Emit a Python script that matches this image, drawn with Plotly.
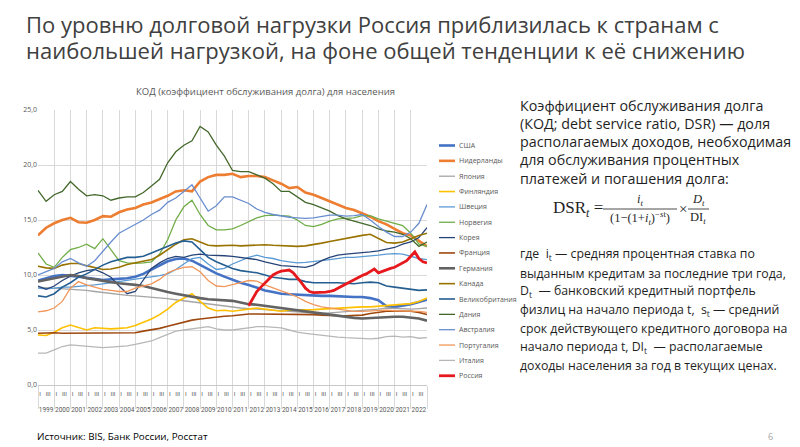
import plotly.graph_objects as go

# ---------------- data (semi-annual points, 1999.0 ... 2023.0) ----------------
T_HALF = [1999 + 0.5 * i for i in range(49)]
T_RUSSIA = [2012 + 0.25 * i for i in range(45)]
YEARS = list(range(1999, 2023))

USA = [9.5, 9.7, 9.9, 10.0, 9.95, 9.85, 9.75, 9.65, 9.55, 9.6, 9.65, 9.7, 9.85, 10.1,
       10.5, 10.9, 11.25, 11.45, 11.5, 11.3, 10.9, 10.5, 10.15, 9.85, 9.55, 9.3, 9.1, 8.85,
       8.6, 8.45, 8.3, 8.25, 8.2, 8.15, 8.1, 8.1, 8.1, 8.05, 8.0, 8.0, 8.0, 7.9, 7.7, 7.15,
       7.1, 7.2, 7.35, 7.55, 7.75]
NETHERLANDS = [13.6, 14.3, 14.7, 15.0, 15.2, 14.8, 14.75, 15.0, 15.35, 15.3, 15.7, 15.95,
               16.1, 16.4, 16.6, 16.9, 17.2, 17.6, 17.7, 17.6, 18.5, 18.9, 19.1, 19.1, 19.2,
               18.9, 19.0, 19.0, 18.9, 18.6, 18.3, 17.9, 18.0, 17.5, 17.3, 17.0, 16.7, 16.4,
               16.1, 15.9, 15.6, 15.3, 14.9, 14.6, 14.2, 13.8, 13.6, 13.1, 12.6]
JAPAN = [8.9, 8.85, 8.8, 8.8, 8.75, 8.7, 8.6, 8.5, 8.4, 8.3, 8.2, 8.15, 8.1, 8.05, 8.0, 7.95,
         7.85, 7.75, 7.65, 7.55, 7.45, 7.35, 7.25, 7.15, 7.1, 7.0, 6.95, 6.9, 6.85, 6.8, 6.7,
         6.65, 6.6, 6.55, 6.5, 6.5, 6.55, 6.6, 6.65, 6.7, 6.75, 6.8, 6.9, 7.0, 6.95, 6.9, 6.9,
         6.95, 7.0]
FINLAND = [4.55, 4.5, 4.8, 5.2, 5.45, 5.2, 5.0, 5.2, 5.15, 5.1, 5.15, 5.2, 5.4, 5.7, 6.0, 6.4,
           6.9, 7.5, 7.9, 8.3, 7.6, 7.0, 6.75, 6.8, 6.7, 6.8, 6.9, 7.0, 6.9, 6.8, 6.7, 6.8, 6.8,
           6.8, 6.85, 6.9, 6.95, 7.0, 7.0, 7.05, 7.1, 7.1, 7.15, 7.2, 7.25, 7.3, 7.4, 7.6, 7.9]
SWEDEN = [8.8, 8.75, 8.8, 8.9, 8.9, 8.95, 9.0, 9.1, 9.2, 9.3, 9.4, 9.55, 9.65, 9.75, 9.8,
          9.95, 10.1, 10.5, 11.0, 11.5, 11.6, 11.0, 10.5, 10.6, 11.0, 11.3, 11.6, 11.8, 11.6,
          11.5, 11.3, 11.2, 11.1, 11.15, 11.2, 11.3, 11.4, 11.5, 11.6, 11.6, 11.65, 11.7,
          11.8, 11.9, 11.95, 11.9, 11.7, 11.5, 11.4]
NORWAY = [12.0, 11.0, 10.7, 11.6, 12.3, 12.5, 12.8, 12.4, 13.3, 12.3, 11.3, 11.1, 11.05,
          11.1, 11.2, 11.9, 13.2, 15.0, 16.2, 16.8, 15.5, 14.5, 14.1, 14.1, 14.2, 14.5, 14.85,
          15.2, 15.4, 15.45, 15.4, 15.35, 15.0, 14.5, 14.4, 14.6, 14.9, 15.1, 15.15, 15.2,
          15.4, 15.4, 15.1, 14.9, 14.75, 14.5, 13.8, 12.8, 12.6]
KOREA = [9.0, 8.7, 9.0, 9.5, 9.9, 10.2, 10.4, 10.5, 10.2, 9.8, 9.0, 8.3, 8.5, 9.6, 10.6,
         11.1, 11.5, 11.7, 11.6, 11.8, 11.9, 11.8, 11.8, 11.75, 11.7, 11.6, 11.5, 11.4, 11.2,
         11.0, 10.85, 10.8, 10.75, 10.7, 10.9, 11.3, 11.6, 11.8, 11.9, 11.95, 12.0, 12.1,
         12.2, 12.35, 12.5, 12.8, 13.0, 13.4, 14.3]
FRANCE = [4.7, 4.75, 4.75, 4.7, 4.7, 4.7, 4.7, 4.7, 4.7, 4.7, 4.7, 4.7, 4.75, 4.9, 5.0, 5.15,
          5.35, 5.55, 5.75, 5.9, 6.0, 6.1, 6.15, 6.25, 6.3, 6.4, 6.45, 6.45, 6.45, 6.45, 6.45,
          6.45, 6.45, 6.45, 6.4, 6.35, 6.3, 6.3, 6.3, 6.3, 6.35, 6.5, 6.6, 6.7, 6.7, 6.7, 6.7,
          6.6, 6.4]
GERMANY = [9.4, 9.55, 9.7, 9.9, 10.0, 9.9, 9.7, 9.6, 9.45, 9.35, 9.25, 9.2, 9.1, 9.0, 8.8,
           8.6, 8.45, 8.3, 8.15, 8.0, 7.9, 7.8, 7.75, 7.7, 7.65, 7.5, 7.35, 7.3, 7.2, 7.1, 7.0,
           6.9, 6.8, 6.65, 6.55, 6.45, 6.35, 6.25, 6.15, 6.1, 6.05, 6.1, 6.15, 6.2, 6.2, 6.2,
           6.15, 6.05, 5.85]
CANADA = [10.8, 10.65, 10.6, 10.9, 11.05, 11.05, 10.85, 10.7, 10.5, 10.55, 10.7, 10.95, 11.1,
          11.25, 11.4, 11.8, 12.3, 12.8, 13.2, 13.3, 13.0, 12.7, 12.65, 12.7, 12.7, 12.65,
          12.7, 12.7, 12.75, 12.7, 12.65, 12.6, 12.6, 12.65, 12.75, 12.9, 13.05, 13.2, 13.3,
          13.45, 13.6, 13.7, 13.3, 12.95, 12.9, 13.0, 13.3, 13.6, 13.8]
UK = [8.1, 8.0, 8.3, 8.9, 9.3, 9.8, 10.1, 10.5, 10.9, 11.2, 11.4, 11.6, 11.6, 11.7, 12.0,
      12.3, 12.6, 12.9, 13.1, 13.0, 12.3, 11.6, 11.2, 10.9, 10.6, 10.4, 10.3, 10.2, 10.0, 9.8,
      9.7, 9.6, 9.6, 9.4, 9.3, 9.3, 9.35, 9.3, 9.25, 9.2, 9.3, 9.35, 9.3, 9.0, 8.9, 8.8, 8.7,
      8.6, 8.65]
DENMARK = [17.7, 16.7, 17.3, 17.6, 18.5, 17.8, 17.2, 17.3, 17.2, 16.8, 17.0, 17.1, 17.1,
           17.5, 18.1, 18.7, 20.2, 21.2, 21.8, 22.2, 23.5, 23.0, 21.8, 20.8, 19.5, 19.4, 19.4,
           19.1, 18.8, 18.3, 17.6, 17.6, 17.1, 16.6, 16.4, 16.1, 15.8, 15.4, 15.1, 14.9, 14.7,
           14.5, 14.2, 14.0, 13.9, 13.7, 13.3, 12.6, 13.0]
AUSTRALIA = [10.0, 10.3, 10.6, 11.2, 11.5, 11.1, 10.8, 11.3, 12.2, 13.0, 13.8, 14.2, 14.6,
             15.0, 15.5, 15.9, 16.6, 17.0, 17.6, 18.2, 17.0, 15.8, 16.3, 17.1, 17.1, 16.8,
             16.5, 16.0, 15.7, 15.5, 15.35, 15.25, 15.2, 15.15, 15.2, 15.3, 15.45, 15.45,
             15.35, 15.4, 15.5, 15.0, 14.4, 13.9, 13.5, 13.5, 13.9, 14.7, 16.4]
PORTUGAL = [6.65, 6.75, 7.0, 7.6, 8.8, 9.4, 9.1, 8.9, 8.7, 8.6, 8.5, 8.5, 8.8, 9.0, 9.2, 9.6,
            10.2, 10.5, 10.7, 10.75, 10.3, 9.5, 9.0, 8.95, 9.1, 9.3, 9.5, 9.45, 9.1, 8.8, 8.55,
            8.3, 8.0, 7.6, 7.3, 7.1, 7.0, 6.85, 6.75, 6.7, 6.7, 6.75, 6.8, 6.8, 6.75, 6.75,
            6.75, 6.7, 6.6]
ITALY = [2.9, 2.9, 3.2, 3.5, 3.65, 3.6, 3.55, 3.45, 3.4, 3.45, 3.5, 3.55, 3.7, 3.85, 4.0, 4.3,
         4.6, 4.9, 5.0, 5.1, 5.2, 5.3, 5.1, 5.0, 5.0, 5.1, 5.2, 5.3, 5.3, 5.25, 5.2, 5.0, 4.8,
         4.7, 4.6, 4.5, 4.4, 4.35, 4.3, 4.25, 4.2, 4.2, 4.25, 4.4, 4.45, 4.35, 4.4, 4.25, 4.3]
RUSSIA = [7.2, 7.8, 8.5, 8.9, 9.3, 9.6, 10.0, 10.2, 10.35, 10.4, 10.45, 10.2, 9.8, 9.3, 8.8,
          8.5, 8.4, 8.4, 8.45, 8.45, 8.5, 8.6, 8.8, 9.0, 9.2, 9.4, 9.6, 9.8, 9.95, 10.1, 10.35,
          10.55, 10.2, 10.35, 10.5, 10.6, 10.7, 10.9, 11.1, 11.3, 11.7, 12.1, 11.5, 11.2, 11.1]

NAMES = ["США", "Нидерланды", "Япония", "Финляндия", "Швеция", "Норвегия", "Корея",
         "Франция", "Германия", "Канада", "Великобритания", "Дания", "Австралия",
         "Португалия", "Италия", "Россия"]
VALUES = [USA, NETHERLANDS, JAPAN, FINLAND, SWEDEN, NORWAY, KOREA, FRANCE, GERMANY, CANADA,
          UK, DENMARK, AUSTRALIA, PORTUGAL, ITALY, RUSSIA]
TIMES = [T_HALF] * 15 + [T_RUSSIA]
COLORS = ["#4472C4", "#ED7D31", "#A5A5A5", "#FFC000", "#5B9BD5", "#70AD47", "#264478",
          "#9E480E", "#636363", "#997300", "#255E91", "#43682B", "#698ED0", "#F1975A",
          "#B7B7B7", "#E5191E"]
WIDTHS = [2.6, 2.6, 1.3, 1.6, 1.3, 1.3, 1.3, 1.6, 2.6, 1.6, 1.6, 1.3, 1.3, 1.3, 1.3, 2.8]

Y_TICKS = [0, 5, 10, 15, 20, 25]
QUARTER_LABELS = ["I", "III"]

TITLE_LINES = ["По уровню долговой нагрузки Россия приблизилась к странам с",
               "наибольшей нагрузкой, на фоне общей тенденции к её снижению"]
DEF_LINES = ["Коэффициент обслуживания долга",
             "(КОД; debt service ratio, DSR) — доля",
             "располагаемых доходов, необходимая",
             "для обслуживания процентных",
             "платежей и погашения долга:"]
NOTE_LINES = ["где  i<sub>t</sub> — средняя процентная ставка по",
              "выданным кредитам за последние три года,",
              "D<sub>t</sub>  — банковский кредитный портфель",
              "физлиц на начало периода t,  s<sub>t</sub> — средний",
              "срок действующего кредитного договора на",
              "начало периода t, DI<sub>t</sub>  — располагаемые",
              "доходы населения за год в текущих ценах."]

# ---------------- layout geometry ----------------
# the page body has an 8px margin, so the figure is drawn 8px right/down in the window
OFF = 8
W, H = 800, 447
PLOT_L, PLOT_R, PLOT_T, PLOT_B = 38, 427, 110, 385   # window pixel coords of plot area
PW, PH = PLOT_R - PLOT_L, PLOT_B - PLOT_T
ML, MT = PLOT_L - OFF, PLOT_T - OFF
MR, MB = W - ML - PW, H - MT - PH


def px(x):
    return (x - PLOT_L) / PW


def py(y):
    return (PLOT_B - y) / PH


fig = go.Figure()
for name, t, v, c, w in zip(NAMES, TIMES, VALUES, COLORS, WIDTHS):
    fig.add_trace(go.Scatter(x=t, y=v, mode="lines", name=name,
                             line=dict(color=c, width=w), showlegend=False))

# empty helper traces so that the label axes are drawn
fig.add_trace(go.Scatter(x=[], y=[], xaxis="x2", showlegend=False))
fig.add_trace(go.Scatter(x=[], y=[], xaxis="x3", showlegend=False))

GRID = "#d9d9d9"
LBL = "#595959"
XR = [1999, 2023]

fig.update_layout(
    width=W, height=H,
    margin=dict(l=ML, r=MR, t=MT, b=MB, pad=0),
    paper_bgcolor="white", plot_bgcolor="white",
    separators=", ",
    font=dict(family="Open Sans", color=LBL),
    xaxis=dict(range=XR, tickmode="array", tickvals=list(range(1999, 2024)),
               showticklabels=False, ticks="outside", ticklen=23, tickcolor=GRID,
               tickwidth=1, showgrid=True, gridcolor=GRID, gridwidth=1,
               showline=True, linecolor="#c8c8c8", zeroline=False),
    xaxis2=dict(range=XR, overlaying="x", anchor="y", side="bottom",
                tickmode="array",
                tickvals=[y + q for y in YEARS for q in (0.125, 0.625)],
                ticktext=QUARTER_LABELS * len(YEARS), tickangle=0, ticklabelstandoff=4,
                tickfont=dict(size=6, color=LBL, family="Roboto"), ticks="",
                showgrid=False, showline=False, zeroline=False),
    xaxis3=dict(range=XR, overlaying="x", anchor="y", side="bottom",
                tickmode="array", tickvals=[y + 0.5 for y in YEARS],
                ticktext=[str(y) for y in YEARS], ticklabelstandoff=19, tickangle=0,
                tickfont=dict(size=6.5, color=LBL, family="Roboto"), ticks="",
                showgrid=False, showline=False, zeroline=False),
    yaxis=dict(range=[0, 25], tickmode="array", tickvals=Y_TICKS, tickformat=".1f",
               tickfont=dict(size=7, color=LBL), showgrid=True, gridcolor=GRID,
               zeroline=False, showline=False, ticks=""),
)

ann = []
shapes = []


def note(text, x, y, size, color, xanchor="left", yanchor="middle", family=None):
    f = dict(size=size, color=color)
    if family:
        f["family"] = family
    ann.append(dict(text=text, x=px(x), y=py(y), xref="paper", yref="paper",
                    xanchor=xanchor, yanchor=yanchor, align="left", showarrow=False, font=f))


def hline(x0, x1, y, color, width):
    shapes.append(dict(type="line", xref="paper", yref="paper", x0=px(x0), x1=px(x1),
                       y0=py(y), y1=py(y), line=dict(color=color, width=width)))


# slide title
for i, line in enumerate(TITLE_LINES):
    note(line, 24, 23.5 + i * 26, 22, "#404040")
# chart title
note("КОД (коэффициент обслуживания долга) для населения", 265, 91, 9.5, LBL,
     xanchor="center")

# manual legend (compact spacing like the original)
for i, (name, c, w) in enumerate(zip(NAMES, COLORS, WIDTHS)):
    yy = 145.5 + i * 15.35
    hline(439, 455, yy, c, w)
    note(name, 457, yy, 7, LBL)

TXT = "#1f1f1f"
for i, line in enumerate(DEF_LINES):
    note(line, 518, 105 + i * 18.3, 14.3, TXT)

SERIF = "Liberation Serif"
note("DSR<sub><i>t</i></sub> =", 551, 209, 17, TXT, family=SERIF)
note("<i>i<sub>t</sub></i>", 640, 200, 12.5, TXT, xanchor="center", family=SERIF)
note("(1−(1+<i>i<sub>t</sub></i>)<sup>−<i>s</i>t</sup>)", 640, 218, 12.5, TXT,
     xanchor="center", family=SERIF)
hline(603, 677, 209, TXT, 0.8)
note("×", 683, 209, 15, TXT, xanchor="center", family=SERIF)
note("<i>D<sub>t</sub></i>", 698, 200, 12.5, TXT, xanchor="center", family=SERIF)
note("DI<sub><i>t</i></sub>", 698, 218, 12.5, TXT, xanchor="center", family=SERIF)
hline(688, 709, 209, TXT, 0.8)

for i, line in enumerate(NOTE_LINES):
    note(line, 518, 254.5 + i * 18.5, 12.3, TXT)

note("Источник: BIS, Банк России, Росстат", 35, 436, 9.8, "#000000")
note("6", 770, 437, 9, "#a6a6a6", xanchor="center")

fig.update_layout(annotations=ann, shapes=shapes)
fig.write_html("out.html")
